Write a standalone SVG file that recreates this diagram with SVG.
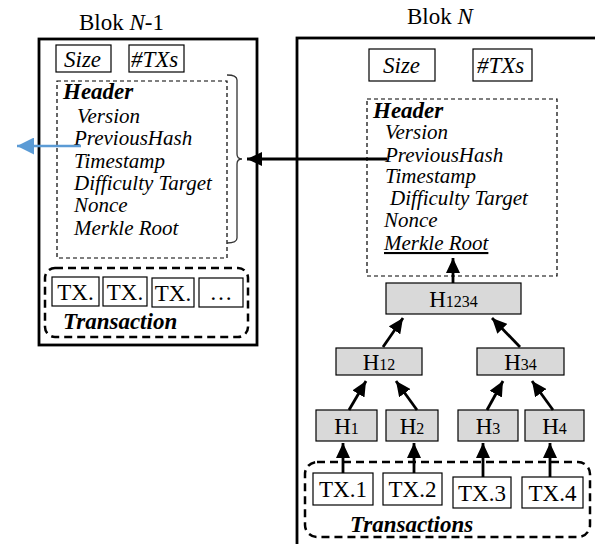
<svg xmlns="http://www.w3.org/2000/svg" width="595" height="544" viewBox="0 0 595 544">
<style>
text{font-family:"Liberation Serif","Times New Roman",serif;fill:#000}
.t{font-size:23px}
.it{font-size:21px;font-style:italic}
.sz{font-size:23px;font-style:italic}
.bi{font-size:23px;font-style:italic;font-weight:bold}
.box{fill:#fff;stroke:#000;stroke-width:1.2}
.hbox{fill:#d9d9d9;stroke:#000;stroke-width:1.2}
.blk{fill:#fff;stroke:#000;stroke-width:2.8}
.hdr{fill:none;stroke:#000;stroke-width:1.2;stroke-dasharray:4 3}
.grp{fill:none;stroke:#000;stroke-width:2.5;stroke-dasharray:8 5}
.ar{stroke:#000;stroke-width:2.8;fill:none;marker-end:url(#ah)}
</style>
<defs>
<marker id="ah" markerUnits="userSpaceOnUse" markerWidth="16" markerHeight="14" refX="15" refY="7" orient="auto">
<path d="M0,0 L15,7 L0,14 Z" fill="#000"/>
</marker>
<marker id="ahb" markerUnits="userSpaceOnUse" markerWidth="18" markerHeight="17" refX="17" refY="8.5" orient="auto">
<path d="M0,0 L17,8.5 L0,17 Z" fill="#5b9bd5"/>
</marker>
</defs>

<g id="blockN1">
<text class="t" x="79" y="30">Blok <tspan font-style="italic">N</tspan>-1</text>
<rect class="blk" x="39" y="39" width="218" height="306"/>
<rect class="box" x="56" y="45" width="55" height="27"/>
<text class="sz" x="64" y="67">Size</text>
<rect class="box" x="129" y="45" width="55" height="27"/>
<text class="sz" x="131" y="67">#TXs</text>
<rect class="hdr" x="57" y="81" width="170" height="177"/>
<text class="bi" x="63" y="99">Header</text>
<text class="it" x="77" y="123">Version</text>
<text class="it" x="74" y="145">PreviousHash</text>
<text class="it" x="74" y="168">Timestamp</text>
<text class="it" x="74" y="190">Difficulty Target</text>
<text class="it" x="74" y="212">Nonce</text>
<text class="it" x="74" y="235">Merkle Root</text>
<path d="M227,75 q10,0 10,5 v74 q0,5 5,5 q-5,0 -5,5 v74 q0,5 -10,5" fill="none" stroke="#333" stroke-width="1.3"/>
<rect class="grp" x="45" y="268" width="203" height="69" rx="10"/>
<rect class="box" x="52" y="277" width="47" height="29"/>
<text class="t" x="75.5" y="300" text-anchor="middle">TX.</text>
<rect class="box" x="103" y="277" width="44" height="29"/>
<text class="t" x="125" y="300" text-anchor="middle">TX.</text>
<rect class="box" x="152" y="278" width="42" height="29"/>
<text class="t" x="173" y="301" text-anchor="middle">TX.</text>
<rect class="box" x="199" y="278" width="44" height="29"/>
<text class="t" x="221" y="300" text-anchor="middle">…</text>
<text class="bi" x="63" y="329">Transaction</text>
</g>

<g id="blockN">
<text class="t" x="407" y="24">Blok <tspan font-style="italic">N</tspan></text>
<rect class="blk" x="297" y="38" width="320" height="520"/>
<rect class="box" x="369" y="49" width="66" height="32"/>
<text class="sz" x="383" y="73">Size</text>
<rect class="box" x="473" y="49" width="59" height="32"/>
<text class="sz" x="477" y="73">#TXs</text>
<rect class="hdr" x="367" y="99" width="190" height="177"/>
<text class="bi" x="373" y="118">Header</text>
<text class="it" x="385" y="139">Version</text>
<text class="it" x="385" y="162">PreviousHash</text>
<text class="it" x="385" y="183">Timestamp</text>
<text class="it" x="390" y="205">Difficulty Target</text>
<text class="it" x="384" y="227">Nonce</text>
<text class="it" x="384" y="250" text-decoration="underline">Merkle Root</text>
</g>

<g id="h1234"><rect class="hbox" x="386" y="283" width="135" height="31"/>
<text class="t" x="453.5" y="307" text-anchor="middle">H<tspan font-size="16">1234</tspan></text></g>
<g id="h12"><rect class="hbox" x="336" y="348" width="86" height="27"/>
<text class="t" x="379" y="370" text-anchor="middle">H<tspan font-size="16">12</tspan></text></g>
<g id="h34"><rect class="hbox" x="477" y="348" width="87" height="27"/>
<text class="t" x="520.5" y="370" text-anchor="middle">H<tspan font-size="16">34</tspan></text></g>
<g id="h1"><rect class="hbox" x="316" y="410" width="61" height="31"/>
<text class="t" x="346.5" y="434" text-anchor="middle">H<tspan font-size="16">1</tspan></text></g>
<g id="h2"><rect class="hbox" x="386" y="410" width="52" height="31"/>
<text class="t" x="412" y="434" text-anchor="middle">H<tspan font-size="16">2</tspan></text></g>
<g id="h3"><rect class="hbox" x="458" y="410" width="60" height="31"/>
<text class="t" x="488" y="434" text-anchor="middle">H<tspan font-size="16">3</tspan></text></g>
<g id="h4"><rect class="hbox" x="525" y="410" width="59" height="31"/>
<text class="t" x="554.5" y="434" text-anchor="middle">H<tspan font-size="16">4</tspan></text></g>

<g id="transactions">
<rect class="grp" x="305" y="462" width="285" height="75" rx="12"/>
<text class="bi" x="350" y="532">Transactions</text>
</g>
<g id="tx1"><rect class="box" x="313" y="473" width="60" height="32"/>
<text class="t" x="343" y="497" text-anchor="middle">TX.1</text></g>
<g id="tx2"><rect class="box" x="383" y="473" width="59" height="32"/>
<text class="t" x="412.5" y="497" text-anchor="middle">TX.2</text></g>
<g id="tx3"><rect class="box" x="453" y="477" width="58" height="31"/>
<text class="t" x="482" y="501" text-anchor="middle">TX.3</text></g>
<g id="tx4"><rect class="box" x="522" y="477" width="61" height="31"/>
<text class="t" x="552.5" y="501" text-anchor="middle">TX.4</text></g>

<g id="connectors">
<line class="ar" x1="387" y1="159" x2="247" y2="159"/>
<line x1="81" y1="146" x2="17" y2="146" stroke="#5b9bd5" stroke-width="2.5" marker-end="url(#ahb)"/>
<line class="ar" x1="453" y1="283" x2="453" y2="258"/>
<line class="ar" x1="383" y1="347" x2="403" y2="318"/>
<line class="ar" x1="520" y1="347" x2="492" y2="318"/>
<line class="ar" x1="349" y1="410" x2="366" y2="381"/>
<line class="ar" x1="417" y1="410" x2="396" y2="381"/>
<line class="ar" x1="487" y1="410" x2="503" y2="381"/>
<line class="ar" x1="553" y1="410" x2="532" y2="381"/>
<line class="ar" x1="343" y1="473" x2="343" y2="443"/>
<line class="ar" x1="414" y1="473" x2="414" y2="443"/>
<line class="ar" x1="483" y1="477" x2="483" y2="443"/>
<line class="ar" x1="550" y1="477" x2="550" y2="443"/>
</g>
</svg>
